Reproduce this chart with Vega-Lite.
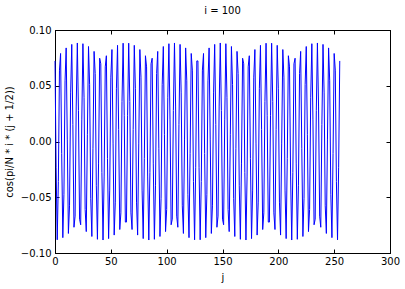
{
  "$schema": "https://vega.github.io/schema/vega-lite/v6.json",
  "width": 335,
  "height": 223,
  "autosize": {"type": "none"},
  "padding": {"left": 55, "top": 30, "right": 15, "bottom": 36},
  "background": "white",
  "title": {"text": "i = 100", "fontSize": 10, "font": "DejaVu Sans", "fontWeight": "normal", "color": "black", "offset": 9},
  "config": {
    "view": {"stroke": "black", "strokeWidth": 1},
    "axis": {"grid": false, "domainColor": "black", "tickColor": "black", "labelColor": "black", "titleColor": "black", "labelFont": "DejaVu Sans", "titleFont": "DejaVu Sans", "labelFontSize": 10, "titleFontSize": 10, "titleFontWeight": "normal", "tickSize": -4, "labelFlush": false, "labelOverlap": false}
  },
  "data": {"values": [
    {"j":0,"v":0.07226},{"j":1,"v":-0.02357},{"j":2,"v":-0.08815},{"j":3,"v":-0.03582},{"j":4,"v":0.06402},{"j":5,"v":0.07895},{"j":6,"v":-0.01082},{"j":7,"v":-0.08624},{"j":8,"v":-0.04729},{"j":9,"v":0.05438},
    {"j":10,"v":0.08393},{"j":11,"v":0.00217},{"j":12,"v":-0.08247},{"j":13,"v":-0.05773},{"j":14,"v":0.04357},{"j":15,"v":0.08709},{"j":16,"v":0.01511},{"j":17,"v":-0.07691},{"j":18,"v":-0.06693},{"j":19,"v":0.03181},
    {"j":20,"v":0.08836},{"j":21,"v":0.02773},{"j":22,"v":-0.06968},{"j":23,"v":-0.07468},{"j":24,"v":0.01937},{"j":25,"v":0.08772},{"j":26,"v":0.03974},{"j":27,"v":-0.06095},{"j":28,"v":-0.08081},{"j":29,"v":0.0065},
    {"j":30,"v":0.08519},{"j":31,"v":0.05089},{"j":32,"v":-0.05089},{"j":33,"v":-0.08519},{"j":34,"v":-0.0065},{"j":35,"v":0.08081},{"j":36,"v":0.06095},{"j":37,"v":-0.03974},{"j":38,"v":-0.08772},{"j":39,"v":-0.01937},
    {"j":40,"v":0.07468},{"j":41,"v":0.06968},{"j":42,"v":-0.02773},{"j":43,"v":-0.08836},{"j":44,"v":-0.03181},{"j":45,"v":0.06693},{"j":46,"v":0.07691},{"j":47,"v":-0.01511},{"j":48,"v":-0.08709},{"j":49,"v":-0.04357},
    {"j":50,"v":0.05773},{"j":51,"v":0.08247},{"j":52,"v":-0.00217},{"j":53,"v":-0.08393},{"j":54,"v":-0.05438},{"j":55,"v":0.04729},{"j":56,"v":0.08624},{"j":57,"v":0.01082},{"j":58,"v":-0.07895},{"j":59,"v":-0.06402},
    {"j":60,"v":0.03582},{"j":61,"v":0.08815},{"j":62,"v":0.02357},{"j":63,"v":-0.07226},
    {"j":64,"v":-0.07226},{"j":65,"v":0.02357},{"j":66,"v":0.08815},{"j":67,"v":0.03582},{"j":68,"v":-0.06402},{"j":69,"v":-0.07895},
    {"j":70,"v":0.01082},{"j":71,"v":0.08624},{"j":72,"v":0.04729},{"j":73,"v":-0.05438},{"j":74,"v":-0.08393},{"j":75,"v":-0.00217},{"j":76,"v":0.08247},{"j":77,"v":0.05773},{"j":78,"v":-0.04357},{"j":79,"v":-0.08709},
    {"j":80,"v":-0.01511},{"j":81,"v":0.07691},{"j":82,"v":0.06693},{"j":83,"v":-0.03181},{"j":84,"v":-0.08836},{"j":85,"v":-0.02773},{"j":86,"v":0.06968},{"j":87,"v":0.07468},{"j":88,"v":-0.01937},{"j":89,"v":-0.08772},
    {"j":90,"v":-0.03974},{"j":91,"v":0.06095},{"j":92,"v":0.08081},{"j":93,"v":-0.0065},{"j":94,"v":-0.08519},{"j":95,"v":-0.05089},{"j":96,"v":0.05089},{"j":97,"v":0.08519},{"j":98,"v":0.0065},{"j":99,"v":-0.08081},
    {"j":100,"v":-0.06095},{"j":101,"v":0.03974},{"j":102,"v":0.08772},{"j":103,"v":0.01937},{"j":104,"v":-0.07468},{"j":105,"v":-0.06968},{"j":106,"v":0.02773},{"j":107,"v":0.08836},{"j":108,"v":0.03181},{"j":109,"v":-0.06693},
    {"j":110,"v":-0.07691},{"j":111,"v":0.01511},{"j":112,"v":0.08709},{"j":113,"v":0.04357},{"j":114,"v":-0.05773},{"j":115,"v":-0.08247},{"j":116,"v":0.00217},{"j":117,"v":0.08393},{"j":118,"v":0.05438},{"j":119,"v":-0.04729},
    {"j":120,"v":-0.08624},{"j":121,"v":-0.01082},{"j":122,"v":0.07895},{"j":123,"v":0.06402},{"j":124,"v":-0.03582},{"j":125,"v":-0.08815},{"j":126,"v":-0.02357},{"j":127,"v":0.07226},
    {"j":128,"v":0.07226},{"j":129,"v":-0.02357},{"j":130,"v":-0.08815},{"j":131,"v":-0.03582},{"j":132,"v":0.06402},{"j":133,"v":0.07895},{"j":134,"v":-0.01082},{"j":135,"v":-0.08624},{"j":136,"v":-0.04729},{"j":137,"v":0.05438},
    {"j":138,"v":0.08393},{"j":139,"v":0.00217},{"j":140,"v":-0.08247},{"j":141,"v":-0.05773},{"j":142,"v":0.04357},{"j":143,"v":0.08709},{"j":144,"v":0.01511},{"j":145,"v":-0.07691},{"j":146,"v":-0.06693},{"j":147,"v":0.03181},
    {"j":148,"v":0.08836},{"j":149,"v":0.02773},{"j":150,"v":-0.06968},{"j":151,"v":-0.07468},{"j":152,"v":0.01937},{"j":153,"v":0.08772},{"j":154,"v":0.03974},{"j":155,"v":-0.06095},{"j":156,"v":-0.08081},{"j":157,"v":0.0065},
    {"j":158,"v":0.08519},{"j":159,"v":0.05089},{"j":160,"v":-0.05089},{"j":161,"v":-0.08519},{"j":162,"v":-0.0065},{"j":163,"v":0.08081},{"j":164,"v":0.06095},{"j":165,"v":-0.03974},{"j":166,"v":-0.08772},{"j":167,"v":-0.01937},
    {"j":168,"v":0.07468},{"j":169,"v":0.06968},{"j":170,"v":-0.02773},{"j":171,"v":-0.08836},{"j":172,"v":-0.03181},{"j":173,"v":0.06693},{"j":174,"v":0.07691},{"j":175,"v":-0.01511},{"j":176,"v":-0.08709},{"j":177,"v":-0.04357},
    {"j":178,"v":0.05773},{"j":179,"v":0.08247},{"j":180,"v":-0.00217},{"j":181,"v":-0.08393},{"j":182,"v":-0.05438},{"j":183,"v":0.04729},{"j":184,"v":0.08624},{"j":185,"v":0.01082},{"j":186,"v":-0.07895},{"j":187,"v":-0.06402},
    {"j":188,"v":0.03582},{"j":189,"v":0.08815},{"j":190,"v":0.02357},{"j":191,"v":-0.07226},
    {"j":192,"v":-0.07226},{"j":193,"v":0.02357},{"j":194,"v":0.08815},{"j":195,"v":0.03582},{"j":196,"v":-0.06402},{"j":197,"v":-0.07895},
    {"j":198,"v":0.01082},{"j":199,"v":0.08624},{"j":200,"v":0.04729},{"j":201,"v":-0.05438},{"j":202,"v":-0.08393},{"j":203,"v":-0.00217},{"j":204,"v":0.08247},{"j":205,"v":0.05773},{"j":206,"v":-0.04357},{"j":207,"v":-0.08709},
    {"j":208,"v":-0.01511},{"j":209,"v":0.07691},{"j":210,"v":0.06693},{"j":211,"v":-0.03181},{"j":212,"v":-0.08836},{"j":213,"v":-0.02773},{"j":214,"v":0.06968},{"j":215,"v":0.07468},{"j":216,"v":-0.01937},{"j":217,"v":-0.08772},
    {"j":218,"v":-0.03974},{"j":219,"v":0.06095},{"j":220,"v":0.08081},{"j":221,"v":-0.0065},{"j":222,"v":-0.08519},{"j":223,"v":-0.05089},{"j":224,"v":0.05089},{"j":225,"v":0.08519},{"j":226,"v":0.0065},{"j":227,"v":-0.08081},
    {"j":228,"v":-0.06095},{"j":229,"v":0.03974},{"j":230,"v":0.08772},{"j":231,"v":0.01937},{"j":232,"v":-0.07468},{"j":233,"v":-0.06968},{"j":234,"v":0.02773},{"j":235,"v":0.08836},{"j":236,"v":0.03181},{"j":237,"v":-0.06693},
    {"j":238,"v":-0.07691},{"j":239,"v":0.01511},{"j":240,"v":0.08709},{"j":241,"v":0.04357},{"j":242,"v":-0.05773},{"j":243,"v":-0.08247},{"j":244,"v":0.00217},{"j":245,"v":0.08393},{"j":246,"v":0.05438},{"j":247,"v":-0.04729},
    {"j":248,"v":-0.08624},{"j":249,"v":-0.01082},{"j":250,"v":0.07895},{"j":251,"v":0.06402},{"j":252,"v":-0.03582},{"j":253,"v":-0.08815},{"j":254,"v":-0.02357},{"j":255,"v":0.07226}
  ]},
  "layer": [
    {
      "mark": {"type": "line", "color": "#0000ff", "strokeWidth": 1},
      "encoding": {
        "x": {"field": "j", "type": "quantitative", "scale": {"domain": [0, 300], "nice": false, "zero": false}, "axis": {"title": "j", "values": [0, 50, 100, 150, 200, 250, 300], "labelPadding": 7, "titlePadding": 6}},
        "y": {"field": "v", "type": "quantitative", "scale": {"domain": [-0.1, 0.1], "nice": false, "zero": false}, "axis": {"title": "cos(pi/N * i * (j + 1/2))", "values": [-0.1, -0.05, 0, 0.05, 0.1], "format": ".2f", "labelPadding": 8, "titlePadding": 6}}
      }
    },
    {
      "mark": {"type": "line", "opacity": 0},
      "encoding": {
        "x": {"field": "j", "type": "quantitative", "axis": {"orient": "top", "labels": false, "title": null, "values": [0, 50, 100, 150, 200, 250, 300]}},
        "y": {"field": "v", "type": "quantitative", "axis": {"orient": "right", "labels": false, "title": null, "values": [-0.1, -0.05, 0, 0.05, 0.1]}}
      }
    }
  ],
  "resolve": {"axis": {"x": "independent", "y": "independent"}}
}
